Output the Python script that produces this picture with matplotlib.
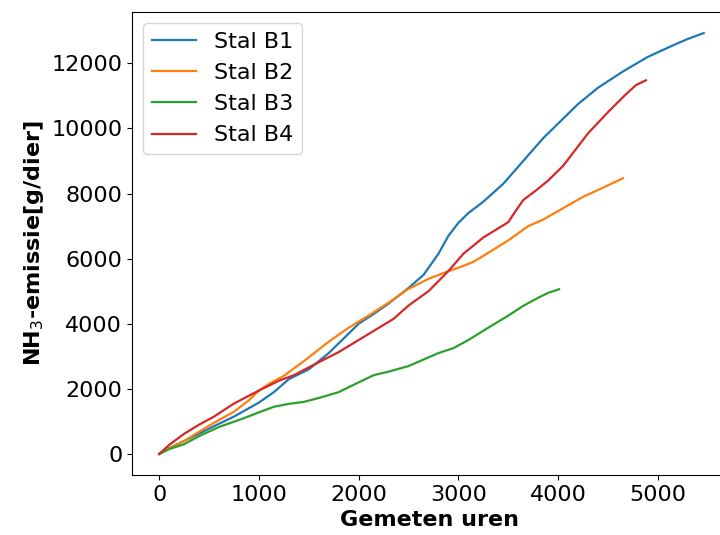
import matplotlib
matplotlib.use("Agg")
import matplotlib.pyplot as plt

# cumulative NH3 emission per stable, read at measured hours
b1_hours = [0, 100, 250, 500, 750, 1000, 1150, 1300, 1500, 1700, 1900, 2000, 2150, 2300,
            2500, 2650, 2800, 2900, 3000, 3100, 3250, 3450, 3650, 3850, 4000, 4200, 4400,
            4650, 4900, 5150, 5300, 5460]
b1_emission = [0, 180, 400, 780, 1150, 1580, 1900, 2300, 2600, 3100, 3700, 4000, 4300, 4620,
               5100, 5500, 6150, 6700, 7100, 7400, 7750, 8300, 9000, 9700, 10150, 10750, 11250,
               11750, 12200, 12550, 12750, 12930]

b2_hours = [0, 100, 250, 500, 750, 900, 1000, 1100, 1250, 1450, 1700, 1900, 2100, 2300, 2500,
            2700, 2850, 3000, 3150, 3300, 3500, 3700, 3850, 4050, 4250, 4450, 4650]
b2_emission = [0, 170, 400, 870, 1300, 1650, 1950, 2150, 2400, 2850, 3450, 3880, 4250, 4650,
               5070, 5380, 5560, 5720, 5900, 6180, 6560, 7000, 7200, 7550, 7900, 8180, 8470]

b3_hours = [0, 100, 250, 400, 600, 850, 1000, 1150, 1300, 1450, 1600, 1800, 1900, 2000, 2150,
            2300, 2500, 2650, 2800, 2950, 3100, 3300, 3500, 3650, 3800, 3900, 4010]
b3_emission = [0, 150, 300, 550, 830, 1100, 1280, 1450, 1540, 1600, 1720, 1900, 2050, 2200,
               2420, 2530, 2700, 2900, 3100, 3250, 3500, 3880, 4250, 4550, 4800, 4950, 5060]

b4_hours = [0, 100, 250, 400, 550, 750, 1000, 1200, 1350, 1550, 1800, 2000, 2150, 2350, 2500,
            2700, 2900, 3050, 3250, 3500, 3560, 3650, 3780, 3900, 4050, 4300, 4500, 4670, 4780,
            4880]
b4_emission = [0, 280, 620, 900, 1150, 1550, 1950, 2250, 2420, 2740, 3130, 3500, 3780, 4150,
               4560, 5000, 5620, 6150, 6650, 7120, 7400, 7800, 8100, 8400, 8850, 9850, 10500,
               11020, 11330, 11480]

labels = ["Stal B1", "Stal B2", "Stal B3", "Stal B4"]

fig = plt.figure(figsize=(7.2, 5.35), dpi=100)
# axes run past the right edge of the figure, so the right spine is cut off
ax = fig.add_axes([0.1833, 0.1121, 0.855, 0.8654])
ax.spines["right"].set_visible(False)

ax.plot(b1_hours, b1_emission, color="#1f77b4", linewidth=1.6, label=labels[0])
ax.plot(b2_hours, b2_emission, color="#ff7f0e", linewidth=1.6, label=labels[1])
ax.plot(b3_hours, b3_emission, color="#2ca02c", linewidth=1.6, label=labels[2])
ax.plot(b4_hours, b4_emission, color="#d62728", linewidth=1.6, label=labels[3])

ax.set_xlim(-273, 5900)
ax.set_xticks([0, 1000, 2000, 3000, 4000, 5000])
ax.set_yticks([0, 2000, 4000, 6000, 8000, 10000, 12000])
ax.tick_params(labelsize=16)

ax.set_xlabel("Gemeten uren", fontsize=16, fontweight="bold")
ax.xaxis.set_label_coords(0.483, -0.075)
ax.set_ylabel("NH$_3$-emissie[g/dier]", fontsize=16, fontweight="bold")

ax.legend(loc="upper left", fontsize=16)

fig.savefig("out.png", dpi=100)
